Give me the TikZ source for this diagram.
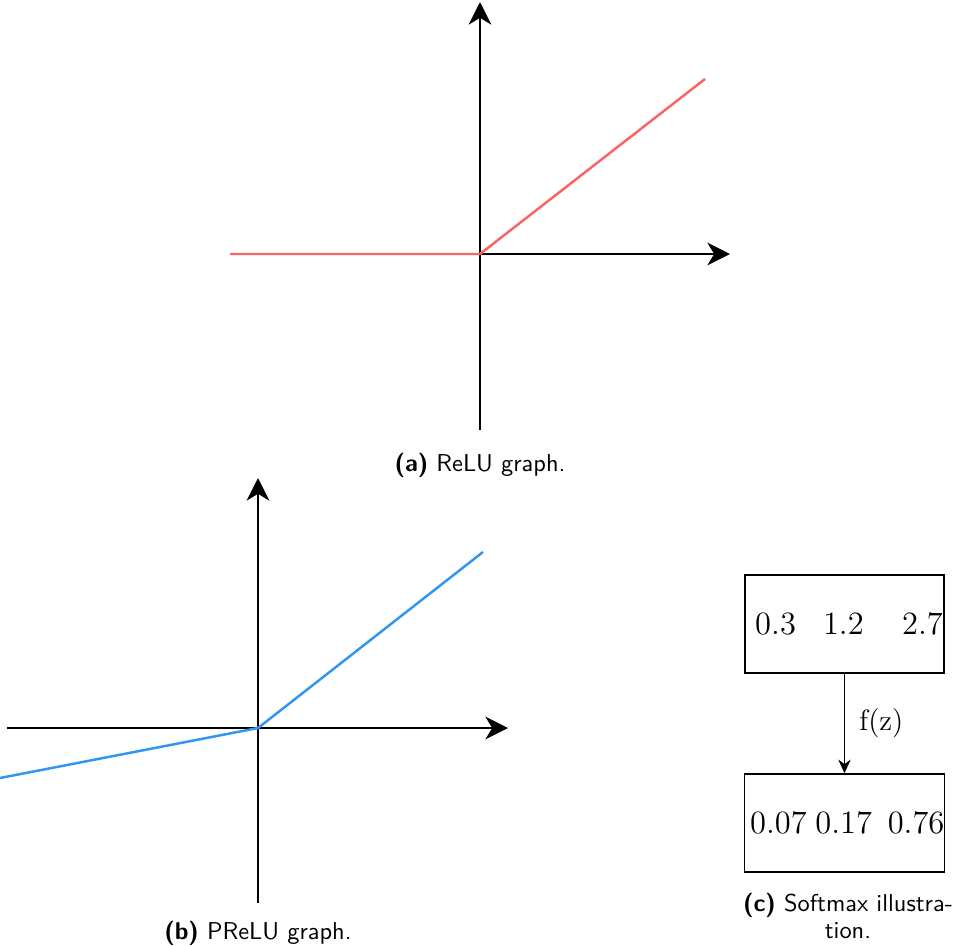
\documentclass[tikz,border=0pt]{standalone}
\usepackage{tikz}
\usetikzlibrary{arrows.meta,positioning}
\usepackage{xcolor}
\definecolor{myred}{RGB}{250,100,100}
\definecolor{myblue}{RGB}{50,150,240}

\begin{document}
\begin{tikzpicture}[x=0.4428pt,y=-0.4428pt,
  axis/.style={-{Stealth[length=10pt,width=10pt,inset=3pt]},line width=1.1pt},
  curve/.style={line width=1.1pt},
  vbox/.style={rectangle,draw,line width=0.6pt,minimum width=88pt,minimum height=43.5pt,
               inner sep=0pt,font=\fontsize{14.8}{17}\selectfont},
  capnode/.style={font=\sffamily\fontsize{10.8}{12.2}\selectfont,align=center,inner sep=0pt}]
\useasboundingbox (0,0) rectangle (953,946);

% (a) ReLU
\coordinate (ao) at (480,254);
\coordinate (ax0) at (230,254);
\coordinate (ax1) at (730,254);
\coordinate (ay0) at (480,430);
\coordinate (ay1) at (480,2);
\coordinate (ar) at (705,79);
\draw[axis] (ax0)--(ax1);
\draw[axis] (ay0)--(ay1);
\draw[curve,myred] (ax0)--(ao)--(ar);
\node[capnode] (capa) at (480,465) {\textbf{(a)} ReLU graph.};

% (b) PReLU
\coordinate (bo) at (258,728);
\coordinate (bx0) at (7,728);
\coordinate (bx1) at (508,728);
\coordinate (by0) at (258,903);
\coordinate (by1) at (258,478);
\coordinate (bl) at (0,778);
\coordinate (br) at (483,552);
\draw[axis] (bx0)--(bx1);
\draw[axis] (by0)--(by1);
\draw[curve,myblue] (bl)--(bo)--(br);
\node[capnode] (capb) at (258,933) {\textbf{(b)} PReLU graph.};

% (c) Softmax
\node[vbox] (z) at (844.5,624) {\hspace{4pt}$0.3$\hspace{12pt}$1.2$\hspace{17pt}$2.7$};
\node[vbox] (p) at (844.5,823) {\hspace{2.5pt}$0.07$\hspace{3.8pt}$0.17$\hspace{7pt}$0.76$};
\draw[-{Stealth[length=6pt,width=5.5pt]},line width=0.6pt] (z.south)--(p.north)
  node[midway,anchor=west,xshift=3pt,font=\fontsize{13}{15}\selectfont] {f(z)};
\node[capnode,text width=94pt] (capc) at (848,916) {\textbf{(c)} Softmax illustra-\\tion.};
\end{tikzpicture}
\end{document}
